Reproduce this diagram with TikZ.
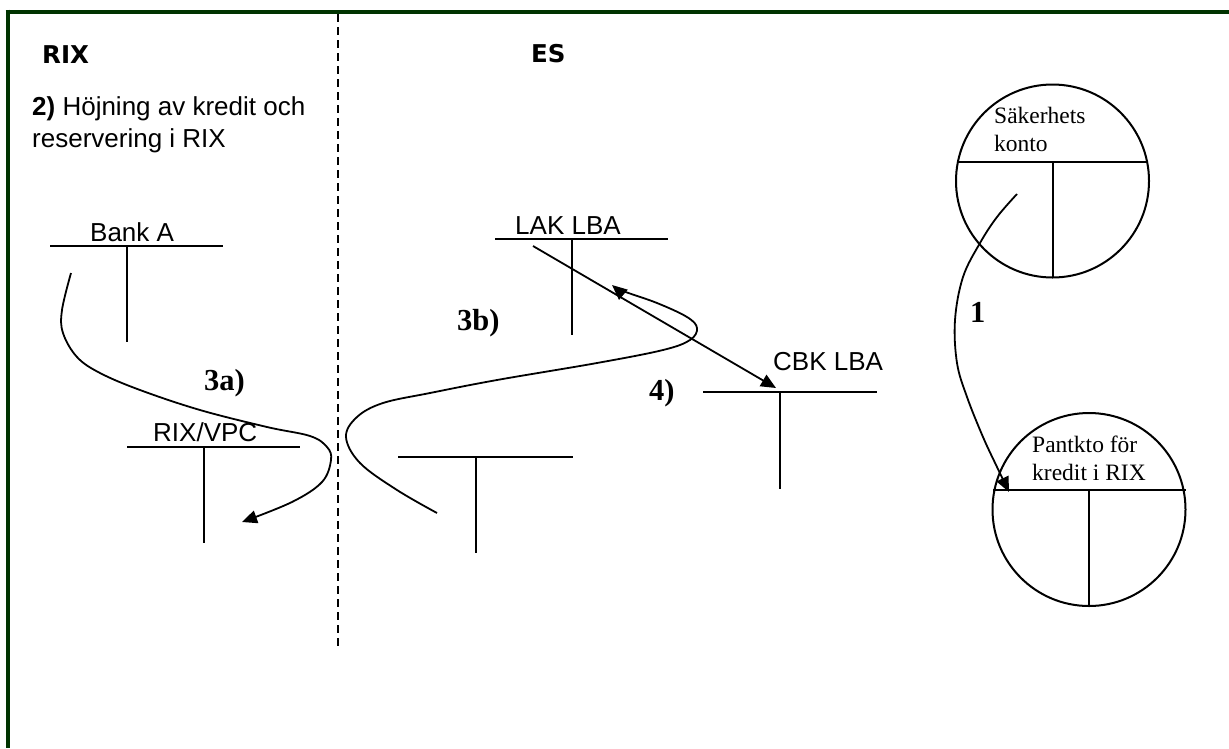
\documentclass[tikz,border=0pt]{standalone}
\usepackage{fontspec}
\setmainfont{Liberation Serif}
\newfontfamily\arialf{Liberation Sans}
\newfontfamily\verdf{DejaVu Sans}
\usetikzlibrary{arrows.meta}
\definecolor{framegreen}{RGB}{0,51,0}
\begin{document}
\begin{tikzpicture}[x=1pt,y=-1pt,
  sanslbl/.style={font=\arialf\fontsize{26}{32}\selectfont, inner sep=0pt, anchor=base west},
  steplbl/.style={font=\bfseries\fontsize{30.5}{34}\selectfont, inner sep=0pt, anchor=base west},
  headlbl/.style={font=\verdf\bfseries\fontsize{24.5}{28}\selectfont, inner sep=0pt, anchor=base west},
  circlbl/.style={font=\fontsize{23.5}{28}\selectfont, inner sep=0pt, anchor=base west},
  tline/.style={line width=2pt},
  flow/.style={line width=1.8pt, -{Triangle[length=15pt,width=13pt]}},
  ]
\useasboundingbox (0,0) rectangle (1229,748);
\fill[white] (0,0) rectangle (1229,748);
% frame
\draw[framegreen, line width=4pt] (5.5,11.5) -- (1229,11.5);
\draw[framegreen, line width=4pt] (7.5,9.5) -- (7.5,748);
% divider
\draw[line width=1.5pt, dash pattern=on 8pt off 5pt] (338,14) -- (338,650);

% headings
\node[headlbl] (rix) at (42,63) {RIX};
\node[headlbl] (es) at (531,62) {ES};
\node[sanslbl] (txt1) at (32,115) {\textbf{2)} Höjning av kredit och};
\node[sanslbl] (txt2) at (32,147) {reservering i RIX};

% T-account Bank A
\draw[tline] (50,246) -- (223,246);
\draw[tline] (127,246) -- (127,342);
\node[sanslbl] (banka) at (90,241) {Bank A};
% T-account RIX/VPC
\draw[tline] (127,447) -- (300,447);
\draw[tline] (204,447) -- (204,543);
\node[sanslbl] (rixvpc) at (153,441) {RIX/VPC};
% T-account LAK LBA
\draw[tline] (495,239) -- (668,239);
\draw[tline] (572,239) -- (572,335);
\node[sanslbl] (laklba) at (515,234) {LAK LBA};
% T-account unnamed
\draw[tline] (398,457) -- (573,457);
\draw[tline] (476,457) -- (476,553);
% T-account CBK LBA
\draw[tline] (703,392) -- (877,392);
\draw[tline] (780,392) -- (780,489);
\node[sanslbl] (cbklba) at (773,370) {CBK LBA};

% circles
\draw[line width=2pt] (1052.5,181) circle (96.5);
\draw[line width=2pt] (957,162) -- (1148,162);
\draw[line width=2pt] (1052.5,162) -- (1052.5,277.5);
\node[circlbl] (sak1) at (994,123) {Säkerhets};
\node[circlbl] (sak2) at (994,151) {konto};

\draw[line width=2pt] (1089,509.5) circle (96.5);
\draw[line width=2pt] (993,490) -- (1186,490);
\draw[line width=2pt] (1089,490) -- (1089,606);
\node[circlbl] (pant1) at (1032,452) {Pantkto för};
\node[circlbl] (pant2) at (1032,480) {kredit i RIX};

% step labels
\node[steplbl] (s3a) at (204,390) {3a)};
\node[steplbl] (s3b) at (457,330) {3b)};
\node[steplbl] (s4) at (649,400) {4)};
\node[steplbl] (s1) at (970,322) {1};

% flows
\coordinate (a3s) at (71,273);
\coordinate (a3e) at (242,522);
\draw[flow] plot[smooth, tension=0.6] coordinates {(71,273) (62,310) (63,333) (77,357) (100,373) (140,390) (200,410) (267,427) (310,436) (327,447) (331,460) (322,482) (292,502) (242,522)};

\coordinate (b3s) at (437,513);
\coordinate (b3e) at (612,285);
\draw[flow] plot[smooth, tension=0.6] coordinates {(437,513) (397,490) (360,463) (346,437) (357,417) (383,403) (430,393) (497,380) (597,363) (663,350) (690,340) (697,328) (687,317) (657,303) (623,291) (612,285)};

\coordinate (d4s) at (533,246);
\coordinate (d4e) at (776,388);
\draw[flow] (d4s) -- (d4e);

\coordinate (c1s) at (1017,194);
\coordinate (c1e) at (1009,492);
\draw[flow] plot[smooth, tension=0.6] coordinates {(1017,194) (997,217) (980,243) (963,277) (955,320) (957,363) (967,397) (983,437) (997,467) (1009,492)};
\end{tikzpicture}
\end{document}
